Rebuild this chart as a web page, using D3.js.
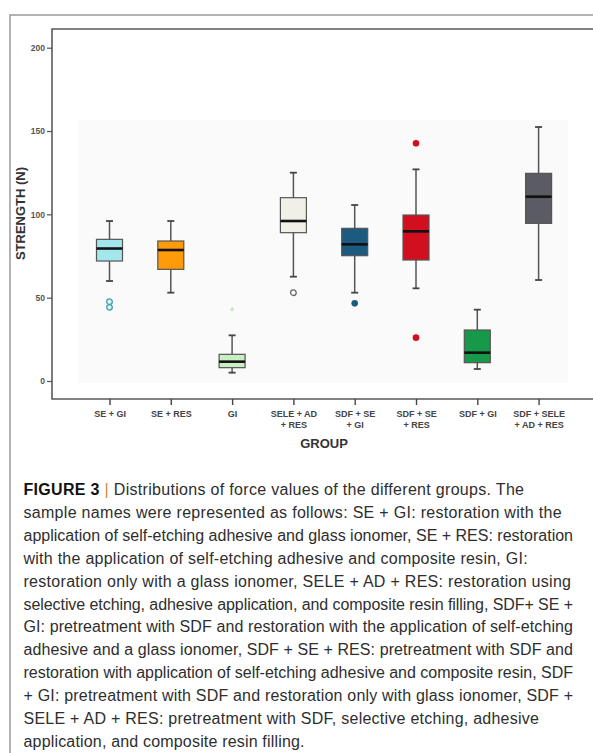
<!DOCTYPE html>
<html>
<head>
<meta charset="utf-8">
<script src="https://cdn.jsdelivr.net/npm/d3@7"></script>
<style>
  html, body { margin: 0; padding: 0; background: #fff; }
  svg { display: block; }
</style>
</head>
<body>
<svg id="fig" width="593" height="753"></svg>
<script>
// Force (N) per group: box-plot summary values
const groups = ["SE + GI", "SE + RES", "GI", "SELE + AD + RES", "SDF + SE + GI",
                "SDF + SE + RES", "SDF + GI", "SDF + SELE + AD + RES"];
const tickLabels = [["SE + GI"], ["SE + RES"], ["GI"], ["SELE + AD", "+ RES"],
                    ["SDF + SE", "+ GI"], ["SDF + SE", "+ RES"], ["SDF + GI"], ["SDF + SELE", "+ AD + RES"]];
const whiskerLow  = [60,   53,   5,    62.6, 53,    55.6, 7.2,  60.6];
const q1          = [72,   67,   8,    89,   75.2,  72.6, 11,   94.6];
const median      = [79.5, 78.6, 11.6, 96,   82,    89.8, 17,   110.6];
const q3          = [85,   84,   16,   110,  91.6,  99.6, 30.6, 124.6];
const whiskerHigh = [96,   96,   27.4, 125,  105.6, 127,  42.8, 152.4];
const outliers    = [[47.6, 44.2], [], [43], [53], [46.6], [142.6, 26], [], []];
const yTicks = [0, 50, 100, 150, 200];

// palette and outlier marker styles per group
const boxColors = ["#a3e7ec", "#ff9a0a", "#c9eec3", "#f0f0e6", "#1d5a80", "#d10f1f", "#17994a", "#5b5b63"];
const outlierMark = ["hollowTeal", null, "faintStar", "hollowGray", "filled", "filled", null, null];

const captionLines = [
  "sample names were represented as follows: SE + GI: restoration with the",
  "application of self-etching adhesive and glass ionomer, SE + RES: restoration",
  "with the application of self-etching adhesive and composite resin, GI:",
  "restoration only with a glass ionomer, SELE + AD + RES: restoration using",
  "selective etching, adhesive application, and composite resin filling, SDF+ SE +",
  "GI: pretreatment with SDF and restoration with the application of self-etching",
  "adhesive and a glass ionomer, SDF + SE + RES: pretreatment with SDF and",
  "restoration with application of self-etching adhesive and composite resin, SDF",
  "+ GI: pretreatment with SDF and restoration only with glass ionomer, SDF +",
  "SELE + AD + RES: pretreatment with SDF, selective etching, adhesive",
  "application, and composite resin filling."
];
const captionRight = [524, 561.6, 573, 527.6, 571, 573, 573, 573, 573, 573, 539, 304.5];

const svg = d3.select("#fig");
const font = "'Liberation Sans', Arial, sans-serif";

// outer figure frame (left and top rules)
svg.append("path")
  .attr("d", "M10,753V15H593")
  .attr("fill", "none").attr("stroke", "#9a9a9a").attr("stroke-width", 1.5);

// scales
const x = d3.scalePoint().domain(groups).range([109.5, 538.6]);
const y = d3.scaleLinear().domain([0, 200]).range([381, 47.7]);
const boxW = 26;

// faint plotting panel
svg.append("rect")
  .attr("x", 78).attr("y", 120).attr("width", 490).attr("height", 263)
  .attr("fill", "#fafafa");

// plot frame: top rule + axes
svg.append("path")
  .attr("d", "M593,29H52V399H593")
  .attr("fill", "none").attr("stroke", "#5a5a5a").attr("stroke-width", 1.6);

// y axis
const yAxis = svg.append("g").attr("transform", "translate(52,0)")
  .call(d3.axisLeft(y).tickValues(yTicks).tickSize(5).tickPadding(2).tickFormat(d3.format("d")));
yAxis.select(".domain").remove();
yAxis.selectAll(".tick line").attr("stroke", "#555").attr("stroke-width", 1.2);
yAxis.selectAll(".tick text").attr("font-family", font).attr("font-size", 8.5)
  .attr("font-weight", "bold").attr("fill", "#555");

// x axis
const xAxis = svg.append("g").attr("transform", "translate(0,399)")
  .call(d3.axisBottom(x).tickSize(6).tickFormat(""));
xAxis.select(".domain").remove();
xAxis.selectAll(".tick line").attr("stroke", "#444").attr("stroke-width", 1.4);
xAxis.selectAll(".tick").each(function(d, i) {
  const t = d3.select(this).append("text")
    .attr("font-family", font).attr("font-size", 9).attr("font-weight", "bold")
    .attr("fill", "#444").attr("text-anchor", "middle");
  tickLabels[i].forEach((line, k) => {
    t.append("tspan").attr("x", 0).attr("y", 18 + k * 11).text(line);
  });
});

// axis titles
svg.append("text")
  .attr("transform", "translate(25,213.5) rotate(-90)")
  .attr("text-anchor", "middle").attr("font-family", font)
  .attr("font-size", 13).attr("font-weight", "bold").attr("fill", "#333")
  .text("STRENGTH (N)");
svg.append("text")
  .attr("x", 324).attr("y", 448).attr("text-anchor", "middle")
  .attr("font-family", font).attr("font-size", 13).attr("font-weight", "bold")
  .attr("fill", "#333").text("GROUP");

// box plots
const boxes = svg.append("g").selectAll("g").data(groups).join("g")
  .attr("transform", d => `translate(${x(d)},0)`);

boxes.append("line")
  .attr("y1", (d, i) => y(whiskerLow[i])).attr("y2", (d, i) => y(whiskerHigh[i]))
  .attr("stroke", "#555").attr("stroke-width", 1.5);
[whiskerLow, whiskerHigh].forEach(arr => {
  boxes.append("line")
    .attr("x1", -3.5).attr("x2", 3.5)
    .attr("y1", (d, i) => y(arr[i])).attr("y2", (d, i) => y(arr[i]))
    .attr("stroke", "#444").attr("stroke-width", 1.8);
});
boxes.append("rect")
  .attr("x", -boxW / 2).attr("width", boxW)
  .attr("y", (d, i) => y(q3[i])).attr("height", (d, i) => y(q1[i]) - y(q3[i]))
  .attr("fill", (d, i) => boxColors[i]).attr("stroke", "#555").attr("stroke-width", 1.2);
boxes.append("line")
  .attr("x1", -boxW / 2).attr("x2", boxW / 2)
  .attr("y1", (d, i) => y(median[i])).attr("y2", (d, i) => y(median[i]))
  .attr("stroke", "#111").attr("stroke-width", 2.6);

// outliers
boxes.each(function(d, i) {
  const g = d3.select(this);
  outliers[i].forEach(v => {
    const kind = outlierMark[i];
    if (kind === "faintStar") {
      g.append("path").attr("transform", `translate(0,${y(v)})`)
        .attr("d", d3.symbol(d3.symbolCross, 9)())
        .attr("fill", "#bde9b6");
    } else if (kind === "filled") {
      g.append("circle").attr("cy", y(v)).attr("r", 3.3)
        .attr("fill", boxColors[i]);
    } else {
      g.append("circle").attr("cy", y(v)).attr("r", 2.8)
        .attr("fill", kind === "hollowTeal" ? "#d8f6f7" : "#fff")
        .attr("stroke", kind === "hollowTeal" ? "#3f9ea8" : "#666")
        .attr("stroke-width", 1.3);
    }
  });
});

// caption
const cap = svg.append("g").attr("font-family", font).attr("font-size", 16).attr("fill", "#2e2e2e");
const capX = 23.5, capY0 = 495, capDy = 22.9;

function fitLine(textSel, right) {
  const node = textSel.node();
  const n = node.getNumberOfChars();
  const natural = node.getComputedTextLength();
  const ls = (right - capX - natural) / (n - 1);
  textSel.attr("letter-spacing", ls.toFixed(3));
}

const first = cap.append("text").attr("x", capX).attr("y", capY0);
first.append("tspan").attr("font-weight", "bold").attr("fill", "#111").text("FIGURE 3 ");
first.append("tspan").attr("fill", "#c98a3e").text("|");
first.append("tspan").text(" Distributions of force values of the different groups. The");
fitLine(first, captionRight[0]);

captionLines.forEach((line, k) => {
  const t = cap.append("text").attr("x", capX).attr("y", capY0 + (k + 1) * capDy).text(line);
  fitLine(t, captionRight[k + 1]);
});
</script>
</body>
</html>
